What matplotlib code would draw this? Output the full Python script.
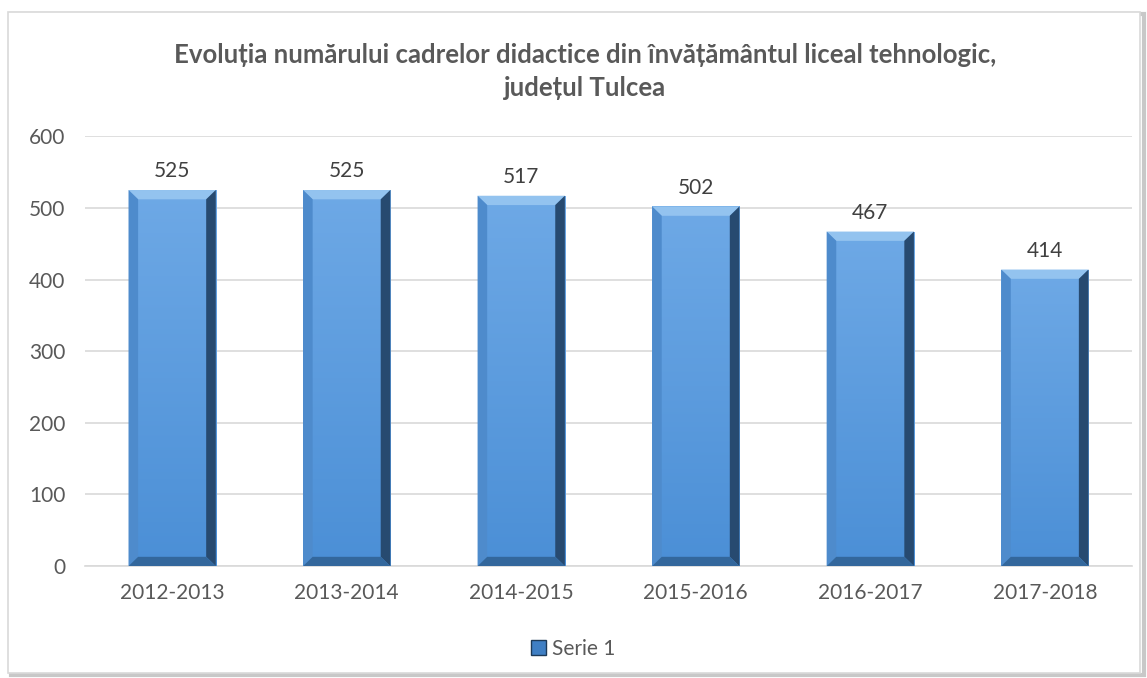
import matplotlib.pyplot as plt
import matplotlib.patches as mpatches
import numpy as np

years = ["2012-2013", "2013-2014", "2014-2015", "2015-2016", "2016-2017", "2017-2018"]
teachers = [525, 525, 517, 502, 467, 414]
y_ticks = [0, 100, 200, 300, 400, 500, 600]

TEXT = "#595959"
GRID = "#d9d9d9"
plt.rcParams["font.family"] = ["Lato", "DejaVu Sans"]

fig = plt.figure(figsize=(11.47, 6.78), dpi=100)
fig.patch.set_facecolor("white")

# outer chart frame with a soft shadow
fig.patches.append(mpatches.Rectangle((0.010, 0.004), 0.987, 0.975, transform=fig.transFigure,
                                      facecolor="none", edgecolor="#c8c8c8", lw=3, zorder=-10))
fig.patches.append(mpatches.Rectangle((0.007, 0.008), 0.987, 0.975, transform=fig.transFigure,
                                      facecolor="white", edgecolor="#d9d9d9", lw=1.2, zorder=-9))

ax = fig.add_axes([0.074, 0.165, 0.913, 0.634])
ax.patch.set_alpha(0)
x = np.arange(len(years))
bars = ax.bar(x, teachers, width=0.5, color="#5b9bd5", zorder=2)

# bevel + gradient on each bar, derived from the bar patch geometry
grad = np.linspace(0, 1, 256).reshape(-1, 1)
cmap = plt.matplotlib.colors.LinearSegmentedColormap.from_list("b", ["#4b8fd6", "#6ea9e6"])
for b in bars:
    x0, w, h = b.get_x(), b.get_width(), b.get_height()
    im = ax.imshow(grad, cmap=cmap, aspect="auto", extent=(x0, x0 + w, 0, h),
                   origin="lower", zorder=3)
    im.set_clip_path(b)
    dx, dy = 0.055, 13
    x1 = x0 + w
    polys = [
        ([(x0, h), (x1, h), (x1 - dx, h - dy), (x0 + dx, h - dy)], "#93c3ef"),
        ([(x0, 0), (x0, h), (x0 + dx, h - dy), (x0 + dx, dy)], "#4e8bcc"),
        ([(x1, 0), (x1, h), (x1 - dx, h - dy), (x1 - dx, dy)], "#274a70"),
        ([(x0, 0), (x1, 0), (x1 - dx, dy), (x0 + dx, dy)], "#33679c"),
    ]
    for pts, c in polys:
        ax.add_patch(mpatches.Polygon(pts, closed=True, facecolor=c, edgecolor="none", zorder=4))
    ax.text(b.get_x() + w / 2, h + 12, f"{h:.0f}", ha="center", va="bottom",
            fontsize=15, color="#404040")

ax.set_xlim(-0.5, len(years) - 0.5)
ax.set_ylim(0, 600)
ax.set_yticks(y_ticks)
ax.set_xticks(x)
ax.set_xticklabels(years)
ax.tick_params(axis="both", length=0, labelsize=15, labelcolor=TEXT, pad=12)
ax.tick_params(axis="y", pad=14)
ax.yaxis.grid(True, color=GRID, lw=1.2, zorder=0)
ax.set_axisbelow(True)
for s in ["top", "right", "left"]:
    ax.spines[s].set_visible(False)
ax.spines["bottom"].set_color(GRID)
ax.spines["bottom"].set_linewidth(1.2)

fig.text(0.51, 0.894, "Evoluția numărului cadrelor didactice din învățământul liceal tehnologic,\njudețul Tulcea",
         ha="center", va="center", fontsize=18.5, fontweight="bold", color=TEXT, linespacing=1.45)

handle = mpatches.Patch(facecolor="#3f7fc4", edgecolor="#1d3a58")
fig.legend([handle], ["Serie 1"], loc="center", bbox_to_anchor=(0.5, 0.043), frameon=False,
           fontsize=15, labelcolor=TEXT, handlelength=0.7, handleheight=0.7, handletextpad=0.3)

fig.savefig("out.png", dpi=100, facecolor="white")
